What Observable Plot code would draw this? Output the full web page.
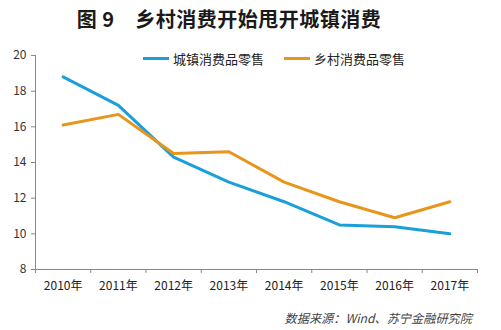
<!DOCTYPE html>
<html><head><meta charset="utf-8">
<script src="https://cdn.jsdelivr.net/npm/d3@7"></script>
<script src="https://cdn.jsdelivr.net/npm/@observablehq/plot@0.6"></script>
<style>
body{margin:0;background:#fff;width:501px;height:330px;overflow:hidden;font-family:"Noto Sans CJK SC","Microsoft YaHei",sans-serif;}
#wrap{position:relative;width:501px;height:330px;}
#title{position:absolute;left:0;top:4px;width:458px;text-align:center;font-size:20px;font-weight:700;color:#1a1a1a;letter-spacing:0.5px;white-space:pre;}
#chart{position:absolute;left:0;top:40px;}
#legend{position:absolute;top:49px;left:143px;font-size:13px;color:#222;display:flex;align-items:center;}
#legend .sw{display:inline-block;width:26px;height:3px;margin-right:4px;}
#legend .it{display:flex;align-items:center;margin-right:20px;}
#caption{position:absolute;right:29px;top:309px;font-size:12.2px;font-style:italic;color:#444;}
</style></head>
<body><div id="wrap">
<div id="title">图 9　乡村消费开始甩开城镇消费</div>
<div id="chart"></div>
<div id="legend"></div>
<div id="caption">数据来源：Wind、苏宁金融研究院</div>
</div>
<script>
const years = ["2010年","2011年","2012年","2013年","2014年","2015年","2016年","2017年"];
const seriesNames = ["城镇消费品零售","乡村消费品零售"];
const urban = [18.8,17.2,14.3,12.9,11.8,10.5,10.4,10.0];
const rural = [16.1,16.7,14.5,14.6,12.9,11.8,10.9,11.8];
const colors = ["#1b9fd9","#e8951c"];
const yTicks = [8,10,12,14,16,18,20];

const data = [];
years.forEach((y,i)=>{
  data.push({i:i+0.5, year:y, v:urban[i], s:seriesNames[0]});
  data.push({i:i+0.5, year:y, v:rural[i], s:seriesNames[1]});
});
const bounds = d3.range(years.length+1);
const centers = years.map((y,i)=>i+0.5);

const plot = Plot.plot({
  width:501, height:260,
  marginLeft:35, marginRight:24, marginTop:15, marginBottom:31,
  style:{fontFamily:"'Noto Sans CJK SC',sans-serif", fontSize:"12px", color:"#333"},
  x:{type:"linear", domain:[0,years.length]},
  y:{domain:[8,20]},
  color:{domain:seriesNames, range:colors},
  marks:[
    Plot.ruleY([8],{stroke:"#888"}),
    Plot.ruleX([0],{stroke:"#888"}),
    Plot.axisY({ticks:yTicks, tickSize:4, tickPadding:5, stroke:"#888", fill:"#333", fontSize:12, label:null}),
    Plot.axisX({ticks:bounds, tickSize:4, tickFormat:()=>"", stroke:"#888", label:null}),
    Plot.axisX({ticks:centers, tickSize:0, tickPadding:12, tickFormat:(d)=>years[Math.round(d-0.5)], fill:"#222", fontSize:12, label:null}),
    Plot.line(data,{x:"i", y:"v", z:"s", stroke:"s", strokeWidth:3})
  ]
});
document.getElementById("chart").appendChild(plot);

const lg = document.getElementById("legend");
seriesNames.forEach((n,k)=>{
  const it=document.createElement("span"); it.className="it";
  const sw=document.createElement("span"); sw.className="sw"; sw.style.background=colors[k];
  it.appendChild(sw); it.appendChild(document.createTextNode(n)); lg.appendChild(it);
});
</script>
</body></html>
